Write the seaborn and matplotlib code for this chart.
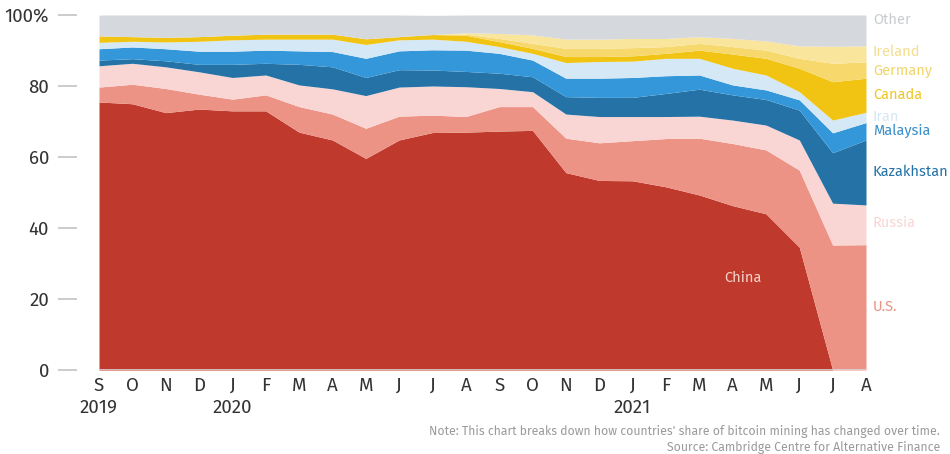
import numpy as np
import pandas as pd
import seaborn as sns
import matplotlib
matplotlib.use("Agg")
import matplotlib.pyplot as plt

months = ["S", "O", "N", "D", "J", "F", "M", "A", "M", "J", "J", "A",
          "S", "O", "N", "D", "J", "F", "M", "A", "M", "J", "J", "A"]
years = {0: "2019", 4: "2020", 16: "2021"}

china = [75.5, 75.0, 72.5, 73.5, 73.0, 73.0, 67.0, 64.8, 59.6, 64.8, 66.9, 67.0,
         67.3, 67.5, 55.6, 53.4, 53.3, 51.6, 49.3, 46.3, 44.0, 34.6, 0.0, 0.0]
us = [4.2, 5.5, 6.8, 4.2, 3.3, 4.5, 7.2, 7.3, 8.5, 6.7, 4.9, 4.4,
      6.9, 6.7, 9.7, 10.6, 11.3, 13.6, 16.0, 17.5, 18.0, 21.7, 35.2, 35.3]
russia = [6.0, 5.9, 6.1, 6.3, 6.1, 5.6, 6.1, 7.1, 9.2, 8.2, 8.2, 8.4,
          5.1, 4.2, 6.8, 7.4, 6.8, 6.2, 6.2, 6.6, 7.0, 8.5, 11.8, 11.2]
kazakhstan = [1.6, 1.3, 1.7, 2.1, 3.7, 3.3, 5.8, 6.2, 5.1, 4.9, 4.5, 4.3,
              4.3, 4.2, 4.9, 5.4, 5.4, 6.5, 7.6, 7.1, 7.2, 8.4, 14.2, 18.3]
malaysia = [3.2, 3.3, 3.4, 3.7, 3.7, 3.7, 3.8, 4.3, 5.4, 5.3, 5.7, 6.0,
            5.6, 4.7, 5.2, 5.4, 5.6, 5.0, 4.0, 2.8, 2.7, 2.9, 5.6, 4.9]
iran = [1.8, 1.6, 1.9, 2.8, 3.2, 3.1, 3.3, 3.5, 3.9, 3.1, 3.0, 2.5,
        1.9, 1.9, 4.4, 4.7, 4.6, 4.9, 4.7, 4.7, 4.2, 2.3, 3.6, 2.9]
canada = [1.8, 1.3, 1.3, 1.3, 1.3, 1.4, 1.4, 1.4, 1.6, 0.9, 1.3, 1.7,
          1.4, 1.4, 1.7, 1.4, 1.5, 1.4, 2.3, 4.0, 4.7, 6.6, 10.8, 9.6]
germany = [0.0, 0.0, 0.0, 0.0, 0.0, 0.0, 0.0, 0.0, 0.0, 0.0, 0.0, 0.3,
           0.9, 1.4, 2.3, 2.3, 2.3, 1.9, 1.9, 2.1, 2.3, 2.8, 5.2, 4.6]
ireland = [0.0, 0.0, 0.0, 0.0, 0.0, 0.0, 0.0, 0.0, 0.0, 0.0, 0.0, 0.4,
           1.4, 2.4, 2.6, 2.6, 2.6, 2.3, 1.9, 2.3, 2.6, 3.5, 4.8, 4.5]
other = [5.9, 6.1, 6.3, 6.1, 5.7, 5.4, 5.4, 5.4, 6.7, 6.1, 5.4, 5.0,
         5.2, 5.6, 6.8, 6.8, 6.6, 6.6, 6.1, 6.6, 7.3, 8.7, 8.8, 8.7]

countries = ["China", "U.S.", "Russia", "Kazakhstan", "Malaysia", "Iran",
             "Canada", "Germany", "Ireland", "Other"]
series = [china, us, russia, kazakhstan, malaysia, iran, canada, germany, ireland, other]
colors = ["#bf3a2c", "#ec9386", "#f9d6d4", "#2472a6", "#3497da", "#d5e8f6",
          "#f1c414", "#f6d86c", "#f9e59c", "#d5d8dc"]
label_colors = ["#f4d2ca", "#ec9386", "#f9d6d4", "#2472a6", "#3a8fcc", "#d5e8f6",
                "#efc622", "#f0d56a", "#f5de8f", "#c9cbce"]
# label y positions (data units) for right-side annotations
label_y = [None, 17.7, 41.4, 55.8, 67.3, 71.3, 77.5, 84.2, 89.6, 98.6]

df = pd.DataFrame(dict(zip(countries, series)))
df["idx"] = np.arange(len(months))

sns.set_theme(style="white")
regular = ["Fira Sans", "Lato", "DejaVu Sans"]
plt.rcParams["font.family"] = regular

fig = plt.figure(figsize=(9.5, 4.54), dpi=100)
ax = fig.add_axes([99 / 950, 1 - 370 / 454, (866 - 99) / 950, (370 - 15) / 454])

ax.stackplot(df["idx"], [df[c] for c in countries], colors=colors, linewidth=0)

ax.set_xlim(0, len(months) - 1)
ax.set_ylim(0, 100)

for s in ax.spines.values():
    s.set_visible(False)
ax.spines["left"].set_position(("outward", 16))

ax.set_yticks([0, 20, 40, 60, 80, 100])
ax.set_yticklabels(["0", "20", "40", "60", "80", "100%"], family=regular,
                   fontsize=13.5, fontweight="normal", color="#333333")
ax.tick_params(axis="y", which="major", length=14, width=1.4, color="#cccccc",
               pad=6, left=True)

xlabels = [m + ("\n" + years[i] if i in years else "\n") for i, m in enumerate(months)]
ax.set_xticks(np.arange(len(months)))
ax.set_xticklabels(xlabels, family=regular, fontsize=13.5, fontweight="normal",
                   color="#333333", linespacing=1.3)
ax.tick_params(axis="x", length=0, pad=5)
ax.axhline(0, color="#d8d8d8", lw=1.2, zorder=5)

for name, col, yv in zip(countries, label_colors, label_y):
    if yv is None:
        continue
    ax.annotate(name, xy=(len(months) - 1, yv), xytext=(5, 0),
                textcoords="offset points", ha="left", va="center",
                fontsize=10.5, color=col, annotation_clip=False)

ax.text(19.3, 25.9, "China", ha="center", va="center", fontsize=10.5,
        color=label_colors[0])

fig.text(940 / 950, 1 - 432 / 454,
         "Note: This chart breaks down how countries' share of bitcoin mining has changed over time.",
         ha="right", va="center", fontsize=8.8, color="#9a9a9a")
fig.text(940 / 950, 1 - 448 / 454,
         "Source: Cambridge Centre for Alternative Finance",
         ha="right", va="center", fontsize=8.8, color="#9a9a9a")

fig.savefig("out.png", dpi=100, facecolor="white")
